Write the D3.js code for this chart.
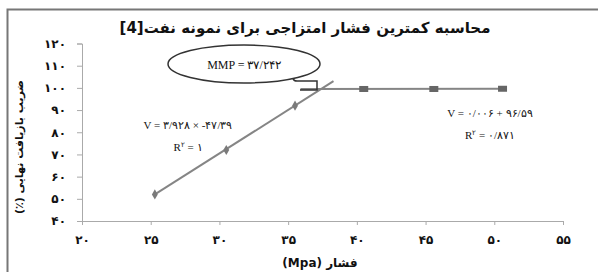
<!DOCTYPE html>
<html><head><meta charset="utf-8">
<script src="https://cdn.jsdelivr.net/npm/d3@7"></script>
<style>
body{margin:0;background:#fff;}
svg{display:block;}
</style></head>
<body>
<svg id="c" width="598" height="272"></svg>
<script>
const xTicks = [20, 25, 30, 35, 40, 45, 50, 55];
const yTicks = [40, 50, 60, 70, 80, 90, 100, 110, 120];
const series1X = [25.3, 30.5, 35.5];
const series1Y = [52, 72, 92];
const series2X = [40.5, 45.6, 50.6];
const series2Y = [99.5, 99.5, 99.6];
const trend1X = [25.3, 38.3];
const trend1Y = [52, 103];
const trend2X = [35.9, 50.6];
const trend2Y = [99.5, 99.6];
const titleText = "محاسبه کمترین فشار امتزاجی برای نمونه نفت[4]";
const xTitle = "فشار (Mpa)";
const yTitle = "ضریب بازیافت نهایی (٪)";
const mmpText = "MMP = ۳۷/۲۴۲";
const eq1 = "V = ۳/۹۲۸ × -۴۷/۳۹";
const r1 = "۱";
const eq2 = "V = ۰/۰۰۶ + ۹۶/۵۹";
const r2 = "۰/۸۷۱";

const fa = s => String(s).replace(/[0-9]/g, d => "۰۱۲۳۴۵۶۷۸۹"[d]);

const svg = d3.select("#c");
const x = d3.scaleLinear().domain([20, 55]).range([82, 563]);
const y = d3.scaleLinear().domain([40, 120]).range([221, 43.5]);

// frame
svg.append("path").attr("d", "M7.5,272 V9.5 H598").attr("fill", "none")
  .attr("stroke", "#777").attr("stroke-width", 2);

// title
svg.append("text").attr("x", 305).attr("y", 33).attr("text-anchor", "middle")
  .attr("direction", "rtl").attr("font-family", "DejaVu Sans").attr("font-weight", "bold")
  .attr("font-size", 15).attr("fill", "#111").text(titleText);

// axes
const xAxis = d3.axisBottom(x).tickValues(xTicks).tickSize(4).tickFormat(fa);
const gx = svg.append("g").attr("transform", `translate(0,${y(40)})`).call(xAxis);
gx.select(".domain").attr("stroke", "#aaa");
gx.selectAll(".tick line").attr("stroke", "#aaa");
gx.selectAll("text").attr("font-family", "DejaVu Sans").attr("font-weight", "bold")
  .attr("font-size", 12).attr("fill", "#111").attr("dy", "1.3em");

const yAxis = d3.axisLeft(y).tickValues(yTicks).tickSize(5).tickFormat(fa);
const gy = svg.append("g").attr("transform", `translate(${x(20)},0)`).call(yAxis);
gy.select(".domain").attr("stroke", "#aaa");
gy.selectAll(".tick line").attr("stroke", "#aaa");
gy.selectAll("text").attr("font-family", "DejaVu Sans").attr("font-weight", "bold")
  .attr("font-size", 12).attr("fill", "#111").attr("x", -16);

// axis titles
svg.append("text").attr("x", 320).attr("y", 267).attr("text-anchor", "middle")
  .attr("direction", "rtl").attr("font-family", "DejaVu Sans").attr("font-weight", "bold")
  .attr("font-size", 12).attr("fill", "#111").text(xTitle);
svg.append("text").attr("transform", "translate(23,147) rotate(-90)").attr("text-anchor", "middle")
  .attr("direction", "rtl").attr("font-family", "DejaVu Sans").attr("font-weight", "bold")
  .attr("font-size", 11).attr("fill", "#111").text(yTitle);

// trendlines
const line = d3.line().x(d => x(d[0])).y(d => y(d[1]));
svg.append("path").datum(d3.zip(trend1X, trend1Y)).attr("d", line)
  .attr("stroke", "#858585").attr("stroke-width", 2).attr("fill", "none");
svg.append("path").datum(d3.zip(trend2X, trend2Y)).attr("d", line)
  .attr("stroke", "#858585").attr("stroke-width", 2).attr("fill", "none");

// markers
svg.selectAll(".m1").data(d3.zip(series1X, series1Y)).join("path").attr("class", "m1")
  .attr("transform", d => `translate(${x(d[0])},${y(d[1])})`)
  .attr("d", d3.symbol(d3.symbolDiamond, 30)()).attr("fill", "#7a7a7a");
svg.selectAll(".m2").data(d3.zip(series2X, series2Y)).join("rect").attr("class", "m2")
  .attr("x", d => x(d[0]) - 4.5).attr("y", d => y(d[1]) - 3).attr("width", 9).attr("height", 6)
  .attr("fill", "#666");

// callout: ellipse plus rectangular tab
svg.append("ellipse").attr("cx", 244).attr("cy", 64).attr("rx", 76).attr("ry", 19)
  .attr("fill", "#fff").attr("stroke", "#333").attr("stroke-width", 1.5);
svg.append("path").attr("d", "M293,78.6 Q294,81 297,81 L317,81 L317,90 L300,90")
  .attr("fill", "none").attr("stroke", "#333").attr("stroke-width", 1.5);
svg.append("text").attr("x", 244).attr("y", 69).attr("text-anchor", "middle")
  .attr("font-family", "Liberation Serif").attr("font-size", 12).attr("fill", "#111").text(mmpText);

// equations
function eq(xc, yv, t) {
  svg.append("text").attr("x", xc).attr("y", yv).attr("text-anchor", "middle")
    .attr("font-family", "Liberation Serif").attr("font-size", 11).attr("fill", "#111").text(t);
}
function r2lab(xc, yv, val) {
  const t = svg.append("text").attr("x", xc).attr("y", yv).attr("text-anchor", "middle")
    .attr("font-family", "Liberation Serif").attr("font-size", 11).attr("fill", "#111");
  t.append("tspan").text("R");
  t.append("tspan").attr("font-size", 7).attr("dy", -4).text("۲");
  t.append("tspan").attr("dy", 4).text(" = " + val);
}
eq(188, 129, eq1);
r2lab(188, 151, r1);
eq(490, 117, eq2);
r2lab(490, 139, r2);
</script>
</body></html>
